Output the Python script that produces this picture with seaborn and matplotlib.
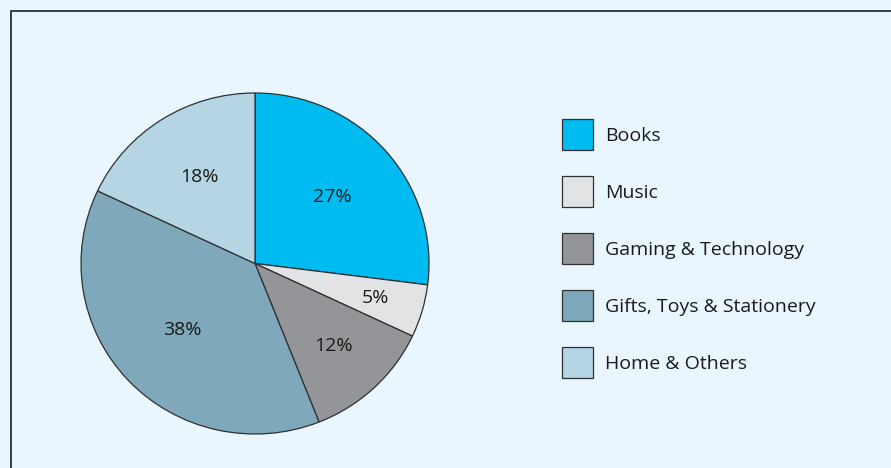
import numpy as np
import matplotlib
matplotlib.use("Agg")
import matplotlib.pyplot as plt
import matplotlib.patches as mpatches
import seaborn as sns

# Sales share by category
categories = ["Books", "Music", "Gaming & Technology", "Gifts, Toys & Stationery", "Home & Others"]
shares = [27, 5, 12, 38, 18]
colors = ["#00bbf0", "#e2e3e5", "#939598", "#7fa9bb", "#b5d5e5"]
# radial position of each percentage label (fraction of radius)
label_radius = [0.59, 0.72, 0.66, 0.57, 0.60]

BG = "#eaf6fe"
EDGE = "#2e3032"
TXT = "#1a1a1a"
FS = 14

sns.set_theme(style="white")
plt.rcParams["font.family"] = ["Open Sans", "DejaVu Sans"]

W, H = 891, 468
fig = plt.figure(figsize=(W / 100, H / 100), dpi=100)
fig.patch.set_facecolor(BG)

# outer frame, open past the right and bottom edges
frame = mpatches.Rectangle((11 / W, -0.1), 1.2, 1 - 11 / H + 0.1,
                           transform=fig.transFigure, fill=False,
                           edgecolor=EDGE, linewidth=1.3, clip_on=False)
fig.patches.append(frame)

cx, cy, rx, ry = 255, 263.5, 174, 170.5
ax = fig.add_axes([(cx - rx) / W, (H - cy - ry) / H, 2 * rx / W, 2 * ry / H])
ax.set_facecolor("none")

wedges, _ = ax.pie(shares, colors=colors, startangle=90, counterclock=False,
                   wedgeprops=dict(edgecolor=EDGE, linewidth=0.9))
ax.set_aspect("auto")
ax.set_xlim(-1.0, 1.0)
ax.set_ylim(-1.0, 1.0)
ax.axis("off")

for w, val, rad in zip(wedges, shares, label_radius):
    ang = np.deg2rad((w.theta1 + w.theta2) / 2)
    ax.text(rad * np.cos(ang), rad * np.sin(ang), f"{val}%",
            ha="center", va="center", fontsize=FS, color=TXT)

handles = [mpatches.Patch(facecolor=c, edgecolor=EDGE, linewidth=0.9) for c in colors]
fig.legend(handles, categories, loc="upper left",
           bbox_to_anchor=(562 / W, 1 - 119 / H), frameon=False,
           fontsize=FS, handlelength=1.6, handleheight=2.08,
           labelspacing=1.34, handletextpad=0.6, borderpad=0,
           borderaxespad=0, labelcolor=TXT)

fig.savefig("out.png", dpi=100, facecolor=BG)
